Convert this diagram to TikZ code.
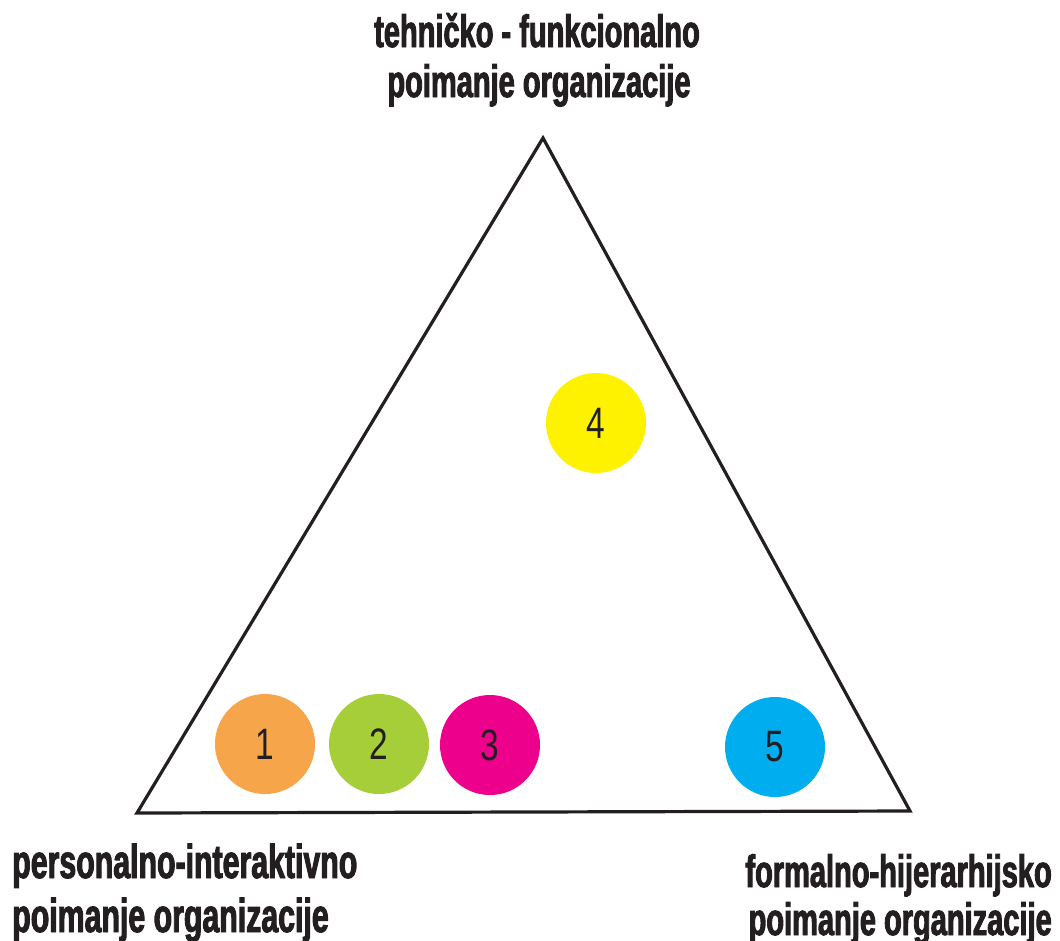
\documentclass[tikz,border=0pt]{standalone}
\usepackage{fontspec}
\newfontfamily\labfont[FakeStretch=0.64,FakeBold=2]{Liberation Sans Bold}
\newfontfamily\numfont[FakeStretch=0.76]{Liberation Sans}
\definecolor{ink}{HTML}{231F20}
\definecolor{corange}{HTML}{F7A54A}
\definecolor{cgreen}{HTML}{A6CE39}
\definecolor{cmagenta}{HTML}{EC008C}
\definecolor{cyellow}{HTML}{FFF200}
\definecolor{ccyan}{HTML}{00AEEF}
\begin{document}
\begin{tikzpicture}[x=0.75pt,y=-0.75pt,
  lab/.style={inner sep=0pt,text=ink,font=\labfont\fontsize{34}{40}\selectfont},
  labbig/.style={inner sep=0pt,text=ink,font=\labfont\fontsize{35.5}{42}\selectfont},
  dot/.style={circle,minimum size=75pt,inner sep=0pt,text=ink,font=\numfont\fontsize{33}{38}\selectfont},
  edge/.style={draw=ink,line width=2.4pt,line join=miter}]
\useasboundingbox[fill=white] (0,0) rectangle (1060,940);
\coordinate (A) at (543,138);
\coordinate (B) at (137,813);
\coordinate (C) at (910,811);
\draw[edge] (A) -- (B) -- (C) -- cycle;
\node[dot,fill=corange] (n1) at (265,744) {1};
\node[dot,fill=cgreen] (n2) at (379,744) {2};
\node[dot,fill=cmagenta] (n3) at (490,745) {3};
\node[dot,fill=cyellow] (n4) at (596,423) {4};
\node[dot,fill=ccyan] (n5) at (775,747) {5};
\node[lab,anchor=base] (t1) at (537,47) {tehničko - funkcionalno};
\node[lab,anchor=base] (t2) at (539,97) {poimanje organizacije};
\node[labbig,anchor=base west] (l1) at (12,878) {personalno-interaktivno};
\node[labbig,anchor=base west] (l2) at (12,932) {poimanje organizacije};
\node[lab,anchor=base east] (r1) at (1052,887) {formalno-hijerarhijsko};
\node[lab,anchor=base east] (r2) at (1052,935) {poimanje organizacije};
\end{tikzpicture}
\end{document}
